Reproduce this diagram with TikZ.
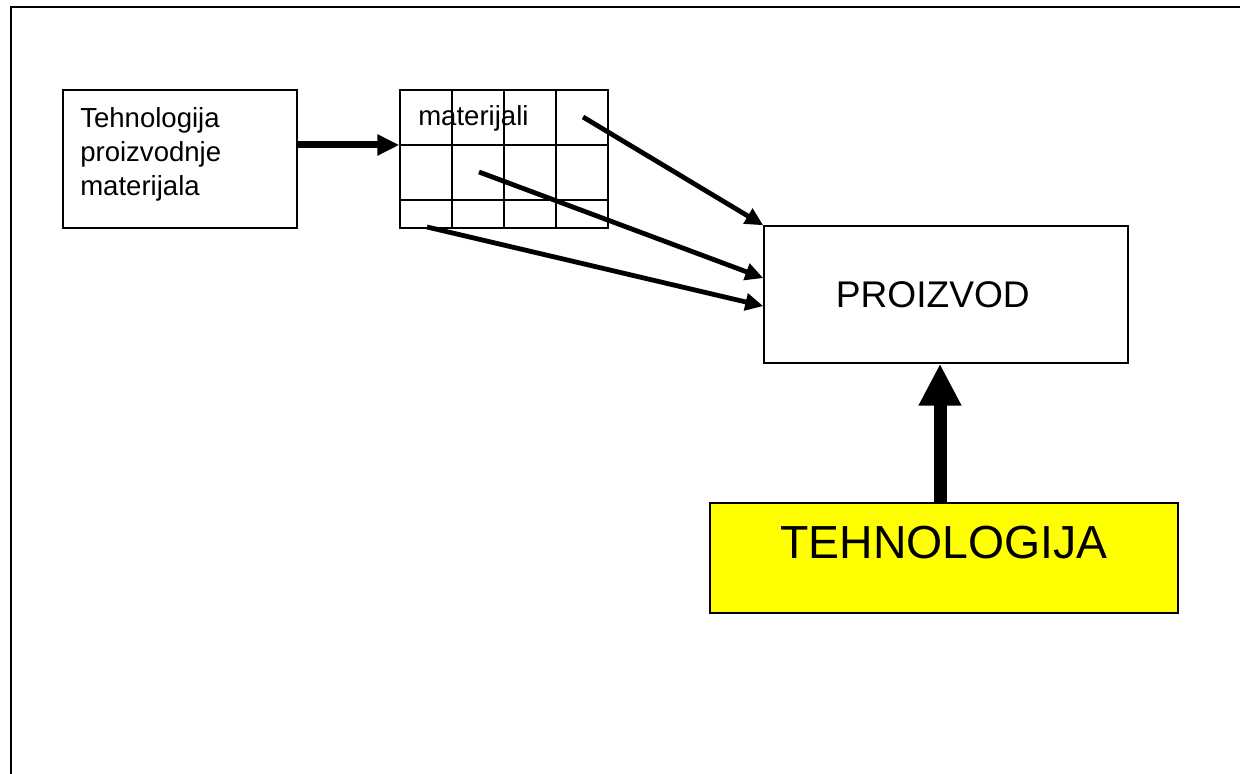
\documentclass[tikz,border=0pt]{standalone}
\usepackage{fontspec}
\setmainfont{Liberation Sans}
\usetikzlibrary{arrows.meta}
\usetikzlibrary{positioning}
\definecolor{techyellow}{rgb}{1, 1, 0}

\begin{document}
\begin{tikzpicture}[
        plain_box/.style={draw=black, line width=1pt, inner sep=0pt},
        thin_arrow/.style={line width=0.12cm, -{Triangle[length=0.45cm, width=0.42cm]}},
        small_text/.style={font=\fontsize{19.6pt}{24.4pt}\selectfont}
    ]
        \useasboundingbox (0,0) rectangle (31,19.35);

        % Frame (only top and left edges are visible)
        \draw[line width=1.5pt] (0.275,0) -- (0.275,19.175) -- (31,19.175);

        % Left box
        \node[plain_box, minimum width=5.85cm, minimum height=3.45cm] at (4.5,15.375) (tech_mat) {};
        \node[small_text, align=left, anchor=base west, inner sep=0pt] at (2.0,14.45) (tech_mat_text) {Tehnologija\\proizvodnje\\materijala};

        % Materials grid
        \node[plain_box, minimum width=5.2cm, minimum height=3.45cm] at (12.6,15.375) (mat) {};
        \draw[line width=1pt] (mat.west |- 0,15.725) -- (mat.east |- 0,15.725);
        \draw[line width=1pt] (mat.west |- 0,14.35) -- (mat.east |- 0,14.35);
        \draw[line width=1pt] (11.3,0 |- mat.north) -- (11.3,0 |- mat.south);
        \draw[line width=1pt] (12.6,0 |- mat.north) -- (12.6,0 |- mat.south);
        \draw[line width=1pt] (13.9,0 |- mat.north) -- (13.9,0 |- mat.south);
        \node[small_text, anchor=base west, inner sep=0pt] at (10.45,16.2) (mat_text) {materijali};

        % Product
        \node[plain_box, minimum width=9.1cm, minimum height=3.425cm] at (23.65,11.9875) (product) {};
        \node[font=\fontsize{26.4pt}{30pt}\selectfont, inner sep=0pt] at ([xshift=-0.33cm]product.center) (product_text) {PROIZVOD};

        % Technology
        \node[plain_box, fill=techyellow, minimum width=11.7cm, minimum height=2.75cm] at (23.6,5.4) (tech) {};
        \node[font=\fontsize{33pt}{38pt}\selectfont, inner sep=0pt] at ([yshift=0.38cm]tech.center) (tech_text) {TEHNOLOGIJA};

        % Left box to materials
        \draw [line width=0.175cm, -{Triangle[length=0.55cm, width=0.5cm]}] ([yshift=0.35cm]tech_mat.east) -- ([yshift=0.35cm]mat.west);

        % Materials to product
        \coordinate (m_one) at (14.575,16.425);
        \coordinate (m_two) at (11.975,15.05);
        \coordinate (m_three) at (10.675,13.675);
        \draw [thin_arrow] (m_one) -- (product.north west);
        \draw [thin_arrow] (m_two) -- ([yshift=0.41cm]product.west);
        \draw [thin_arrow] (m_three) -- ([yshift=-0.29cm]product.west);

        % Technology to product
        \draw [line width=0.325cm, -{Triangle[length=1.05cm, width=1.0cm]}] ([xshift=-0.1cm]tech.north) -- ([xshift=-0.1cm]tech.north |- product.south);

\end{tikzpicture}
\end{document}
